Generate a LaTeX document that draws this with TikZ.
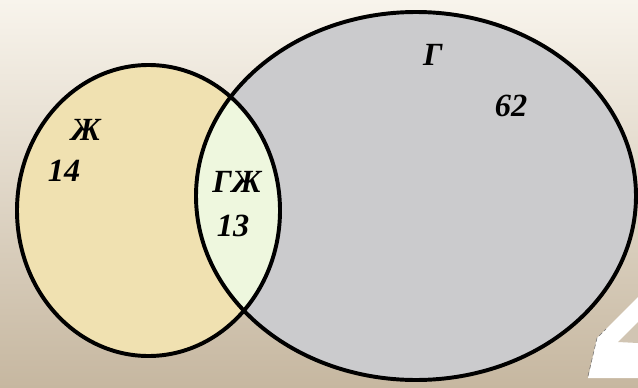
\documentclass[tikz,border=0pt]{standalone}
\usepackage{fontspec}
\setmainfont{Liberation Serif}
\usepackage{xcolor}
\usetikzlibrary{positioning}

\definecolor{bgtop}{RGB}{248,244,236}
\definecolor{bgmid}{RGB}{232,222,204}
\definecolor{bgbot}{RGB}{198,183,160}
\definecolor{zhfill}{RGB}{240,225,177}
\definecolor{gfill}{RGB}{203,203,205}
\definecolor{gzhfill}{RGB}{238,247,222}

\begin{document}
\begin{tikzpicture}[
        x=0.025cm, y=-0.025cm,
        rim/.style = {draw=black, line width=2.8pt},
        num/.style = {inner sep=0pt, font=\fontsize{23}{27}\selectfont\bfseries\itshape}
    ]
    % background
    \shade[top color=bgtop, middle color=bgmid, bottom color=bgbot] (0,0) rectangle (638,388);
    \useasboundingbox (0,0) rectangle (638,388);

    % corner of the big white digit
    \fill[white] (588,378) -- (597,338) -- (638,297) -- (638,378) -- cycle;
    \fill[bgbot!80!white] (618,342) -- (638,322) -- (638,343) -- cycle;
    \draw[black!55, densely dashed, thin] (588,376) -- (597,338) -- (606,329);

    % sets
    \fill[zhfill] (148.5,210.5) ellipse (131.5 and 145.5);
    \fill[gfill] (416,196) ellipse (220 and 184);
    \begin{scope}
        \clip (148.5,210.5) ellipse (131.5 and 145.5);
        \fill[gzhfill] (416,196) ellipse (220 and 184);
    \end{scope}
    \draw[rim] (148.5,210.5) ellipse (131.5 and 145.5);
    \draw[rim] (416,196) ellipse (220 and 184);

    % labels
    \node[num] (zh) at (86,130) {Ж};
    \node[num] (zhn) at (64,171) {14};
    \node[num] (gzh) at (237,182) {ГЖ};
    \node[num] (gzhn) at (233,226) {13};
    \node[num] (g) at (433,55) {Г};
    \node[num] (gn) at (511,106) {62};
\end{tikzpicture}
\end{document}
